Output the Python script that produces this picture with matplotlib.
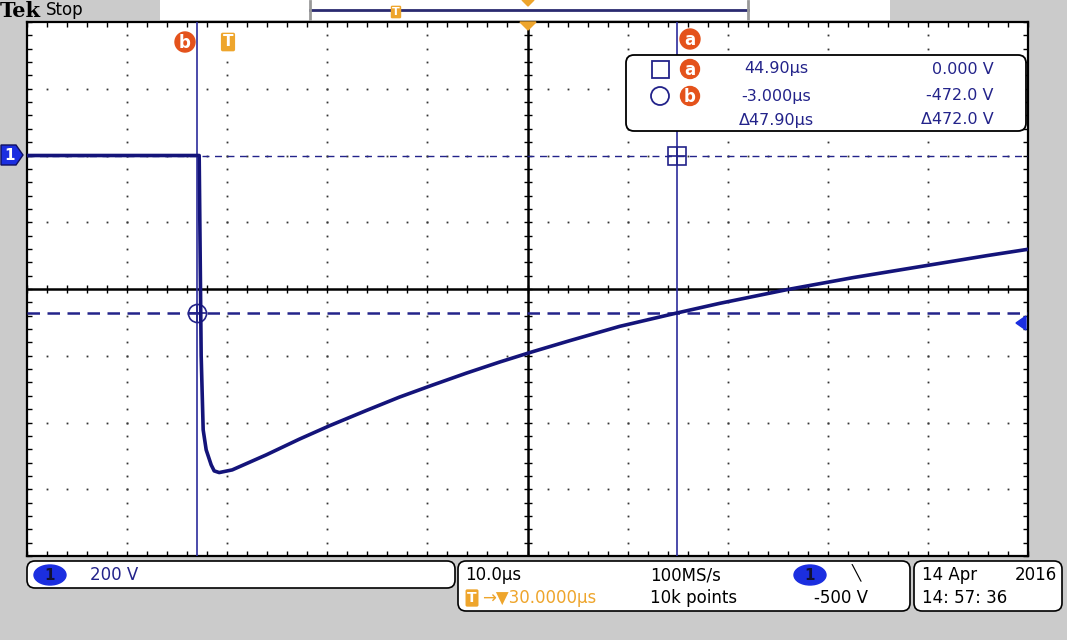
import numpy as np
import matplotlib
matplotlib.use("Agg")
import matplotlib.pyplot as plt
import matplotlib.transforms as mtransforms
from matplotlib.patches import FancyBboxPatch, Polygon, Circle, Rectangle, Ellipse
from matplotlib.ticker import MultipleLocator

# waveform (time in us after trigger, volts)
trace_t = [-20, -2.8, -2.7, -2.6, -2.4, -2.1, -1.6, -1.3, -0.8, 0.5, 3.9, 7.2,
           10.2, 13.9, 17.2, 20.5, 23.9, 27.2, 30.5, 34.2, 39.2, 44.9, 49.2,
           55.9, 62.5, 69.2, 75.9, 80]
trace_v = [0, 0, -300, -600, -822, -882, -927, -945, -950, -942, -897, -850,
           -810, -764, -724, -688, -652, -619, -588, -555, -512, -472, -443,
           -402, -366, -333, -300, -281]

# scope settings
volts_per_div = 200
us_per_div = 10
h_delay = 30          # us at screen centre
ground_divs = 2       # ground marker above centre
trig_level = -500

# cursors
cur_a_t, cur_a_v = 44.90, 0.000
cur_b_t, cur_b_v = -3.000, -472.0
readout_t = ["44.90\u00b5s", "-3.000\u00b5s", "\u039447.90\u00b5s"]
readout_v = ["0.000 V", "-472.0 V", "\u0394472.0 V"]

W, H = 1067, 640
navy = "#23238a"
trace_col = "#14147a"
orange = "#e4521b"
amber = "#eea52c"
chblue = "#1b2ee0"

fig = plt.figure(figsize=(W / 100, H / 100), dpi=100, facecolor="#cbcbcb")
pix = mtransforms.Affine2D().scale(1 / W, -1 / H).translate(0, 1) + fig.transFigure

# ---- graticule -------------------------------------------------------------
ax = fig.add_axes([27 / W, 1 - 556 / H, 1001 / W, 534 / H])
centre_v = -ground_divs * volts_per_div
t0, t1 = h_delay - 5 * us_per_div, h_delay + 5 * us_per_div
v0, v1 = centre_v - 4 * volts_per_div, centre_v + 4 * volts_per_div
ax.set_xlim(t0, t1)
ax.set_ylim(v0, v1)
ax.set_facecolor("white")
for s in ax.spines.values():
    s.set_linewidth(1.6)
    s.set_color("black")
ax.xaxis.set_major_locator(MultipleLocator(us_per_div))
ax.xaxis.set_minor_locator(MultipleLocator(us_per_div / 5))
ax.yaxis.set_major_locator(MultipleLocator(volts_per_div))
ax.yaxis.set_minor_locator(MultipleLocator(volts_per_div / 5))
ax.tick_params(which="both", direction="in", top=True, right=True, length=3.5,
               width=1, labelbottom=False, labelleft=False)

minor_t = np.arange(t0, t1 + 0.01, us_per_div / 5)
minor_v = np.arange(v0, v1 + 0.01, volts_per_div / 5)
for gx in np.arange(t0 + us_per_div, t1, us_per_div):
    if gx != h_delay:
        ax.plot(np.full_like(minor_v, gx), minor_v, ls="none", marker="s",
                ms=1.3, mew=0, color="#333333", zorder=1)
for gy in np.arange(v0 + volts_per_div, v1, volts_per_div):
    if gy != centre_v:
        ax.plot(minor_t, np.full_like(minor_t, gy), ls="none", marker="s",
                ms=1.3, mew=0, color="#333333", zorder=1)

ax.axhline(centre_v, color="black", lw=1.8, zorder=2)
ax.axvline(h_delay, color="black", lw=1.8, zorder=2)
ax.plot(minor_t, np.full_like(minor_t, centre_v), ls="none", marker="|",
        ms=6, mew=1, color="black", zorder=2)
ax.plot(np.full_like(minor_v, h_delay), minor_v, ls="none", marker="_",
        ms=6, mew=1, color="black", zorder=2)

# cursors
ax.axhline(cur_a_v, color=navy, lw=1, ls=(0, (5, 4)), zorder=3)
ax.axhline(cur_b_v, color=navy, lw=1.8, ls=(0, (5, 3)), zorder=3)
ax.axvline(cur_a_t, color="#2c2c9c", lw=1.2, zorder=3)
ax.axvline(cur_b_t, color="#2c2c9c", lw=1.2, zorder=3)
ax.plot(cur_a_t, cur_a_v, marker="s", ms=13, mfc="none", mec=navy, mew=1.2, zorder=4)
ax.plot(cur_a_t, cur_a_v, marker="+", ms=13, mec=navy, mew=1.2, zorder=4)
ax.plot(cur_b_t, cur_b_v, marker="o", ms=13, mfc="none", mec=navy, mew=1.2, zorder=4)
ax.plot(cur_b_t, cur_b_v, marker="+", ms=13, mec=navy, mew=1.2, zorder=4)

ax.plot(trace_t, trace_v, color=trace_col, lw=2.6, zorder=5, solid_joinstyle="round")


def circ_letter(x, y, s, r=10):
    fig.patches.append(Circle((x, y), r, transform=pix, color=orange, zorder=10))
    fig.text(x, y + 1, s, transform=pix, color="white", fontsize=12,
             fontweight="bold", ha="center", va="center", zorder=11)


def t_marker(x, y, size=11):
    fig.text(x, y, "T", transform=pix, color="white", fontsize=size,
             fontweight="bold", ha="center", va="center", zorder=11,
             bbox=dict(boxstyle="round,pad=0.12", fc=amber, ec="none"))


# ---- screen annotations ----------------------------------------------------
circ_letter(185, 42, "b")
t_marker(228, 42)
circ_letter(690, 39, "a")
fig.patches.append(Polygon([(520, 22), (536, 22), (528, 30)], closed=True,
                           transform=pix, color=amber, zorder=10))

# ground marker and trigger level marker
gy = 155
fig.patches.append(Polygon([(1, gy - 10), (16, gy - 10), (23, gy), (16, gy + 10), (1, gy + 10)],
                           closed=True, transform=pix, fc=chblue, ec="#101060", lw=1, zorder=10))
fig.text(10, gy + 1, "1", transform=pix, color="white", fontsize=11, fontweight="bold",
         ha="center", va="center", zorder=11)
fig.patches.append(Polygon([(1016, 323), (1026, 316), (1026, 330)], closed=True,
                           transform=pix, color=chblue, zorder=10))

# ---- top bar --------------------------------------------------------------
fig.text(0, 11, "Tek", transform=pix, fontsize=15, fontweight="bold", va="center", family="DejaVu Serif")
fig.text(46, 10, "Stop", transform=pix, fontsize=12, va="center")
fig.patches.append(Rectangle((160, 0), 730, 20, transform=pix, fc="white", ec="none"))
fig.lines.append(plt.Line2D([310, 748], [10, 10], transform=pix, color="#2a2a70", lw=2))
for bx in (310, 748):
    fig.lines.append(plt.Line2D([bx, bx], [1, 19], transform=pix, color="#999999", lw=2))
t_marker(396, 12, size=8)
fig.patches.append(Polygon([(522, 0), (534, 0), (528, 6)], closed=True,
                           transform=pix, color=amber, zorder=10))

# ---- cursor readout -------------------------------------------------------
fig.patches.append(FancyBboxPatch((626, 55), 400, 76, boxstyle="round,pad=0,rounding_size=8",
                                  transform=pix, fc="white", ec="black", lw=1.3, zorder=8))
fig.patches.append(Rectangle((652, 61), 17, 17, transform=pix, fc="none", ec=navy, lw=1.3, zorder=9))
fig.patches.append(Circle((660, 96), 9, transform=pix, fc="none", ec=navy, lw=1.3, zorder=9))
circ_letter(690, 69, "a", r=9.5)
circ_letter(690, 96, "b", r=9.5)
for row, (st, sv) in enumerate(zip(readout_t, readout_v)):
    y = [69, 96, 120][row]
    fig.text(776, y, st, transform=pix, color=navy, fontsize=11.5, ha="center", va="center", zorder=9)
    fig.text(994, y, sv, transform=pix, color=navy, fontsize=11.5, ha="right", va="center", zorder=9)

# ---- bottom status bars ---------------------------------------------------
for x, y, w, h in [(27, 561, 428, 27), (458, 561, 452, 50), (914, 561, 148, 50)]:
    fig.patches.append(FancyBboxPatch((x, y), w, h, boxstyle="round,pad=0,rounding_size=8",
                                      transform=pix, fc="white", ec="black", lw=1.2))


def ch_badge(x, y):
    fig.patches.append(Ellipse((x, y), 32, 20, transform=pix, color=chblue, zorder=9))
    fig.text(x, y + 1, "1", transform=pix, color="#111133", fontsize=11, fontweight="bold",
             ha="center", va="center", zorder=10)


ch_badge(50, 575)
fig.text(90, 575, f"{volts_per_div} V", transform=pix, color=navy, fontsize=12, va="center")

fig.text(465, 575, f"{us_per_div:.1f}\u00b5s", transform=pix, fontsize=12, va="center")
t_marker(472, 598, size=10)
fig.text(482, 598, f"\u2192\u25bc{h_delay:.4f}\u00b5s", transform=pix, color=amber, fontsize=12, va="center")
fig.text(650, 575, "100MS/s", transform=pix, fontsize=12, va="center")
fig.text(650, 598, "10k points", transform=pix, fontsize=12, va="center")
ch_badge(810, 575)
fig.text(852, 573, "\u2572", transform=pix, fontsize=11, va="center")
fig.text(868, 598, f"{trig_level} V", transform=pix, fontsize=12, va="center", ha="right")

fig.text(922, 575, "14 Apr", transform=pix, fontsize=12, va="center")
fig.text(1057, 575, "2016", transform=pix, fontsize=12, va="center", ha="right")
fig.text(922, 598, "14: 57: 36", transform=pix, fontsize=12, va="center")

fig.savefig("out.png", dpi=100, facecolor=fig.get_facecolor())
